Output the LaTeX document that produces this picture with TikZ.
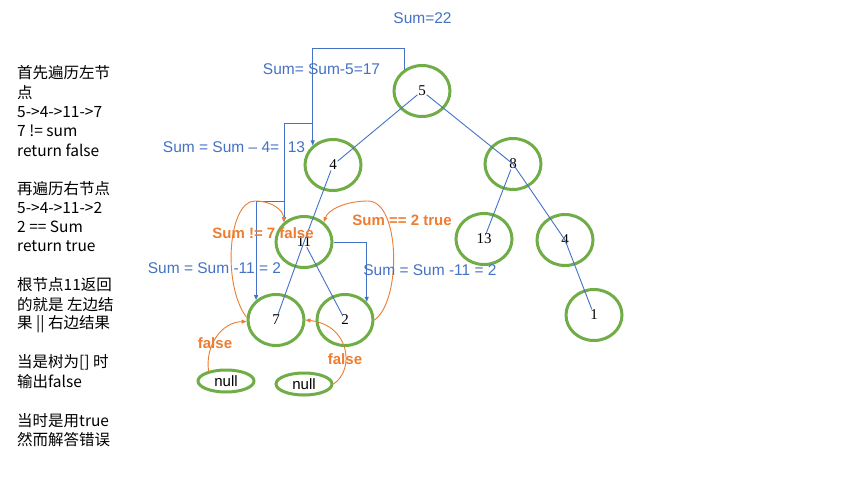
\documentclass[tikz,border=0pt]{standalone}
\usepackage{fontspec}
\setmainfont{Liberation Sans}
\newfontfamily\cjkfont{Noto Sans CJK SC}
\newfontfamily\serifnum{Liberation Serif}
\usetikzlibrary{shapes.geometric,arrows.meta}
\definecolor{tgreen}{HTML}{70AD47}
\definecolor{tblue}{HTML}{4472C4}
\definecolor{torange}{HTML}{ED7D31}
\begin{document}
\begin{tikzpicture}[x=1pt,y=-1pt,
  tnode/.style={ellipse,draw=tgreen,line width=3pt,minimum width=56pt,minimum height=51pt,inner sep=0pt,font=\serifnum\fontsize{15}{18}\selectfont},
  nullnode/.style={ellipse,draw=tgreen,line width=3pt,minimum width=56pt,minimum height=22pt,inner sep=0pt,font=\fontsize{15}{18}\selectfont},
  edge/.style={tblue,line width=0.9pt,shorten <=6pt,shorten >=6pt},
  barrow/.style={tblue,line width=1pt,-{Triangle[length=5pt,width=4pt]}},
  oarrow/.style={torange,line width=0.9pt,-{Triangle[length=5pt,width=4pt]}},
  blab/.style={text=tblue,font=\fontsize{15.5}{18}\selectfont,inner sep=0pt},
  olab/.style={text=torange,font=\bfseries\fontsize{15}{18}\selectfont,inner sep=0pt},
  ltext/.style={anchor=west,font=\cjkfont\fontsize{15.5}{19}\selectfont,inner sep=0pt}
]
\useasboundingbox[fill=white] (0,0) rectangle (853,480);

% left notes
\foreach \yy/\tt in {73/首先遍历左节, 92.3/点, 111.6/5->4->11->7, 130.9/7 != sum, 150.2/return false,
  188.8/再遍历右节点, 208/5->4->11->2, 227.3/2 == Sum, 246.6/return true,
  285/根节点11返回, 304.5/的就是 左边结, 324/果 || 右边结果,
  362.5/当是树为[] 时, 382/输出false, 420.5/当时是用true, 440/然而解答错误}
  \node[ltext] at (17,\yy) {\tt};

% tree nodes
\node[tnode] (n5) at (422,91) {5};
\node[tnode] (n4) at (333,165) {4};
\node[tnode] (n8) at (513,164) {8};
\node[tnode] (n11) at (304,242) {11};
\node[tnode] (n13) at (484,239) {13};
\node[tnode] (n4r) at (565,240) {4};
\node[tnode] (n7) at (276,320) {7};
\node[tnode] (n2) at (345,320) {2};
\node[tnode] (n1) at (594,315) {1};
\node[nullnode] (nl1) at (226,381) {null};
\node[nullnode] (nl2) at (304,384) {null};

% tree edges
\draw[edge] (n5.center) -- (n4.center);
\draw[edge] (n4.center) -- (n11.center) -- (n7.center);
\draw[edge] (n11.center) -- (n2.center);
\draw[edge] (n5.center) -- (n8.center) -- (n4r.center) -- (n1.center);
\draw[edge] (n8.center) -- (n13.center);

% blue elbow arrows
\draw[barrow] (n5.130) -- (n5.130 |- 0,48) -- (n4.136 |- 0,48) -- (n4.136);
\coordinate (j1) at (n4.136 |- 0,123);
\draw[barrow] (j1) -| (n11.135);
\coordinate (j2) at (n11.135 |- 0,201);
\draw[barrow] (j2) -| (n7.135);
\draw[barrow] (n11.east) -| (n2.40);

% orange curved arrows
\draw[oarrow] (n7.175) .. controls (222,285) and (228,201) .. (255,201)
  .. controls (272,201) and (283,210) .. (n11.135);
\draw[oarrow] (n2.0) .. controls (402,300) and (400,201) .. (368,201)
  .. controls (345,201) and (328,210) .. (n11.45);
\draw[oarrow] (nl1.150) .. controls (205,345) and (222,322) .. (n7.183);
\draw[oarrow] (nl2.east) .. controls (355,370) and (350,325) .. (n7.0);

% blue labels
\node[blab] (l22) at (422.5,18) {Sum=22};
\node[blab] (l17) at (321.5,69) {Sum= Sum-5=17};
\node[blab] (l13) at (234,147) {Sum = Sum – 4=\ \ 13};
\node[blab] (l2a) at (214.5,268) {Sum = Sum -11 = 2};
\node[blab] (l2b) at (430,270) {Sum = Sum -11 = 2};

% orange labels
\node[olab] (o1) at (263,233) {Sum != 7 false};
\node[olab] (o2) at (402,220) {Sum == 2 true};
\node[olab] (o3) at (215,343) {false};
\node[olab] (o4) at (345,359) {false};
\end{tikzpicture}
\end{document}
